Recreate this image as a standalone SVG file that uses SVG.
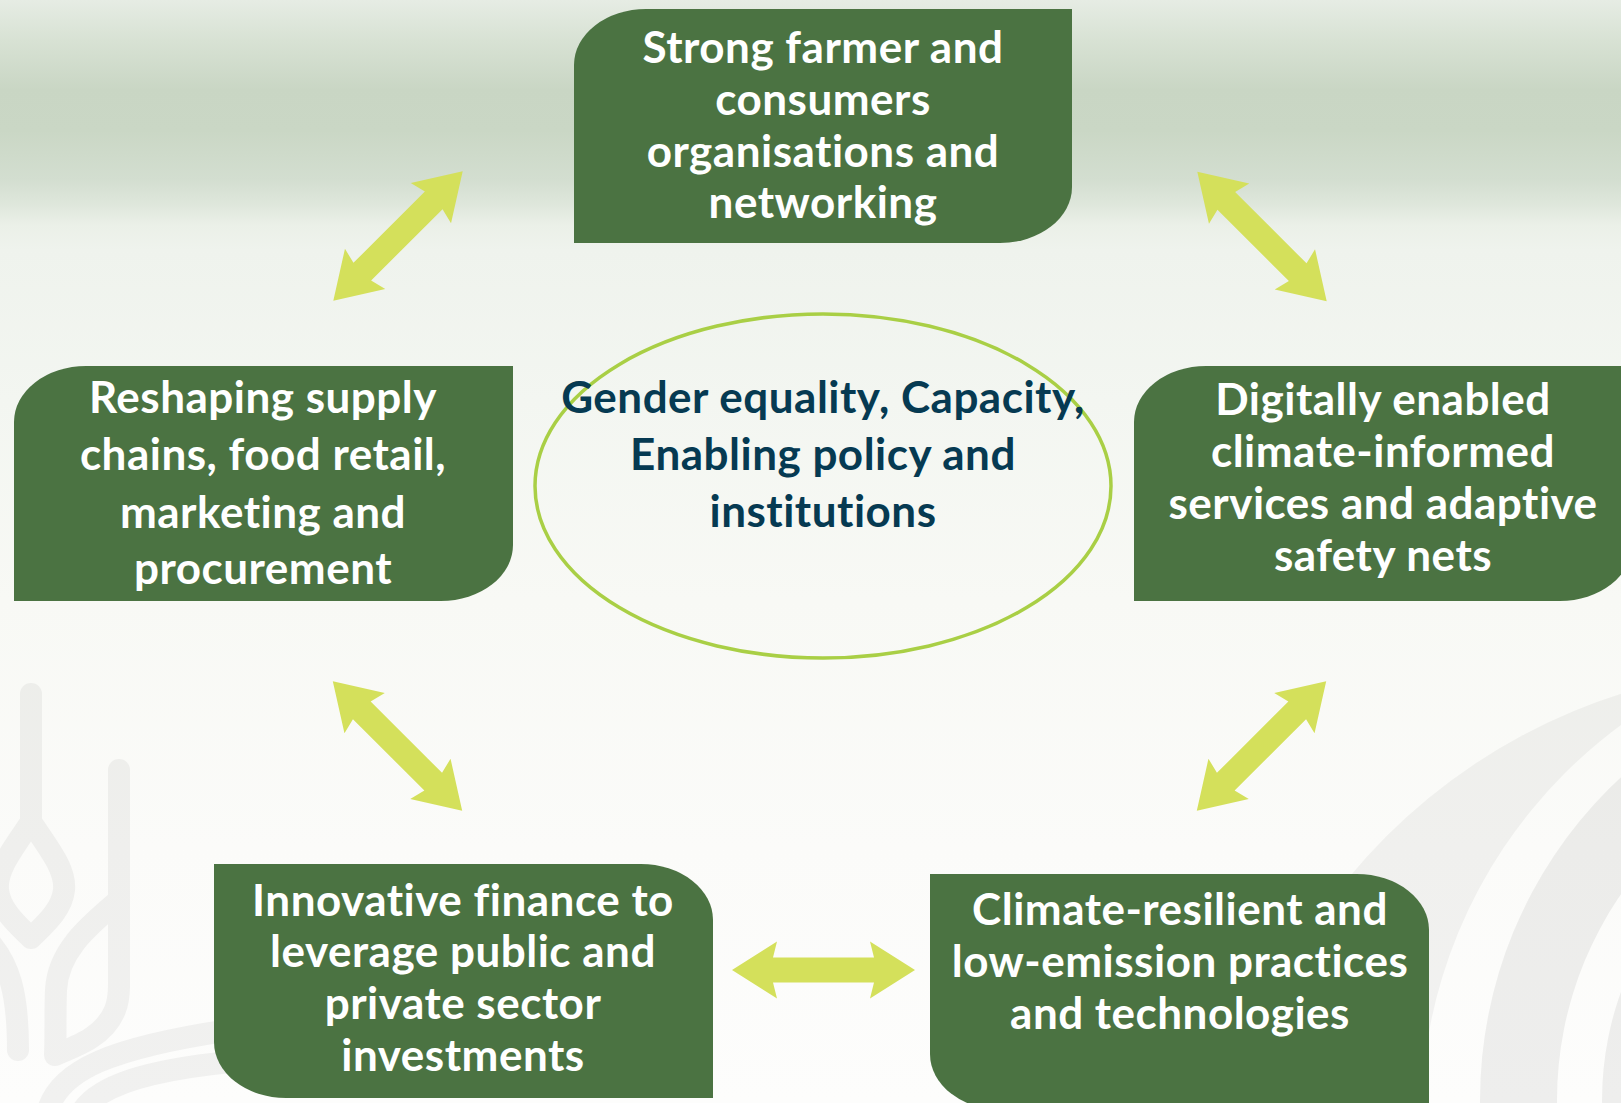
<svg xmlns="http://www.w3.org/2000/svg" width="1621" height="1103" viewBox="0 0 1621 1103">
<defs>
<linearGradient id="bg" gradientUnits="userSpaceOnUse" x1="0" y1="0" x2="0" y2="1103">
<stop offset="0" stop-color="#e6ece4"/>
<stop offset="0.036" stop-color="#d8e2d4"/>
<stop offset="0.082" stop-color="#c9d6c4"/>
<stop offset="0.118" stop-color="#cad7c5"/>
<stop offset="0.163" stop-color="#d3ded0"/>
<stop offset="0.186" stop-color="#dfe7dc"/>
<stop offset="0.204" stop-color="#ebf0e8"/>
<stop offset="0.227" stop-color="#eff3ed"/>
<stop offset="0.363" stop-color="#f3f6f1"/>
<stop offset="0.544" stop-color="#f8f9f5"/>
<stop offset="0.77" stop-color="#fbfbf9"/>
<stop offset="1" stop-color="#fdfdfc"/>
</linearGradient>
<path id="dblarrow" d="M-91.5,0 L-46.5,-28.5 L-50.5,-12.5 L50.5,-12.5 L46.5,-28.5 L91.5,0 L46.5,28.5 L50.5,12.5 L-50.5,12.5 L-46.5,28.5 Z"/>
<style>
.box { fill: #4b7342; }
.lbl { font-family: Lato, "Open Sans", "Liberation Sans", sans-serif; font-weight: 700; font-size: 44px; fill: #ffffff; text-anchor: middle; letter-spacing: 0.5px; }
.ctr { font-family: Lato, "Open Sans", "Liberation Sans", sans-serif; font-weight: 700; font-size: 44px; fill: #063a52; text-anchor: middle; letter-spacing: 0.5px; }
.arrow { fill: #d4e05b; }
.ring { fill: none; stroke: #a9cf45; stroke-width: 3.5; }
.wm { fill: none; stroke: #000; stroke-width: 22; stroke-linecap: round; stroke-linejoin: round; }
</style>
</defs>

<!-- background -->
<rect x="0" y="0" width="1621" height="1103" fill="url(#bg)"/>

<!-- watermark: wheat (bottom-left) -->
<g opacity="0.045">
<path class="wm" d="M31,694 V822"/>
<path class="wm" d="M31,822 C50,850 66,870 64,890 C62,910 44,925 31,938 C18,925 0,910 -2,890 C-4,870 12,850 31,822 Z"/>
<path class="wm" d="M119,770 V985"/>
<path class="wm" d="M119,900 C90,925 58,950 56,990 C55,1015 56,1035 55,1055 C80,1045 105,1035 115,1010 C119,1000 119,990 119,985"/>
<path class="wm" d="M-8,945 C8,965 18,990 18,1050"/>
<path class="wm" d="M48,1110 C60,1070 110,1048 230,1030"/>
<path class="wm" d="M80,1115 C95,1085 150,1070 230,1062"/>
</g>

<!-- watermark: arcs (bottom-right) -->
<g>
<circle cx="1795" cy="1245" r="578" fill="#000" fill-opacity="0.045"/>
<circle cx="1911" cy="1120" r="490" fill="url(#bg)"/>
<circle cx="1920" cy="1100" r="440" fill="#000" fill-opacity="0.06"/>
<circle cx="1920" cy="1100" r="363" fill="url(#bg)"/>
<circle cx="1920" cy="1100" r="318" fill="#000" fill-opacity="0.06"/>
</g>

<!-- connectors -->
<g id="connectors">
<use href="#dblarrow" class="arrow" transform="translate(398,236) rotate(-45)"/>
<use href="#dblarrow" class="arrow" transform="translate(1262,236.5) rotate(45)"/>
<use href="#dblarrow" class="arrow" transform="translate(397.5,746) rotate(45)"/>
<use href="#dblarrow" class="arrow" transform="translate(1261.5,746) rotate(-45)"/>
<use href="#dblarrow" class="arrow" transform="translate(823.5,970)"/>
</g>

<!-- center node -->
<g id="node-center">
<ellipse class="ring" cx="823" cy="486" rx="288" ry="172"/>
<text class="ctr" x="823" y="413">Gender equality, Capacity,</text>
<text class="ctr" x="823" y="470">Enabling policy and</text>
<text class="ctr" x="823" y="527">institutions</text>
</g>

<!-- top node -->
<g id="node-organisations">
<path class="box" d="M646,9 H1072 V187 A72 56 0 0 1 1000,243 H574 V65 A72 56 0 0 1 646,9 Z"/>
<text class="lbl" x="823" y="63">Strong farmer and</text>
<text class="lbl" x="823" y="115">consumers</text>
<text class="lbl" x="823" y="167">organisations and</text>
<text class="lbl" x="823" y="218">networking</text>
</g>

<!-- left node -->
<g id="node-supply-chains">
<path class="box" d="M86,366 H513 V545 A72 56 0 0 1 441,601 H14 V422 A72 56 0 0 1 86,366 Z"/>
<text class="lbl" x="263" y="413">Reshaping supply</text>
<text class="lbl" x="263" y="470">chains, food retail,</text>
<text class="lbl" x="263" y="528">marketing and</text>
<text class="lbl" x="263" y="584">procurement</text>
</g>

<!-- right node -->
<g id="node-digital">
<path class="box" d="M1206,366 H1632 V545 A72 56 0 0 1 1560,601 H1134 V422 A72 56 0 0 1 1206,366 Z"/>
<text class="lbl" x="1383" y="415">Digitally enabled</text>
<text class="lbl" x="1383" y="467">climate-informed</text>
<text class="lbl" x="1383" y="519">services and adaptive</text>
<text class="lbl" x="1383" y="571">safety nets</text>
</g>

<!-- bottom-left node -->
<g id="node-finance">
<path class="box" d="M214,864 H641 A72 56 0 0 1 713,920 V1098 H286 A72 56 0 0 1 214,1042 Z"/>
<text class="lbl" x="463" y="916">Innovative finance to</text>
<text class="lbl" x="463" y="967">leverage public and</text>
<text class="lbl" x="463" y="1019">private sector</text>
<text class="lbl" x="463" y="1071">investments</text>
</g>

<!-- bottom-right node -->
<g id="node-climate">
<path class="box" d="M930,874 H1357 A72 56 0 0 1 1429,930 V1110 H1002 A72 56 0 0 1 930,1054 Z"/>
<text class="lbl" x="1180" y="925">Climate-resilient and</text>
<text class="lbl" x="1180" y="977">low-emission practices</text>
<text class="lbl" x="1180" y="1029">and technologies</text>
</g>
</svg>
